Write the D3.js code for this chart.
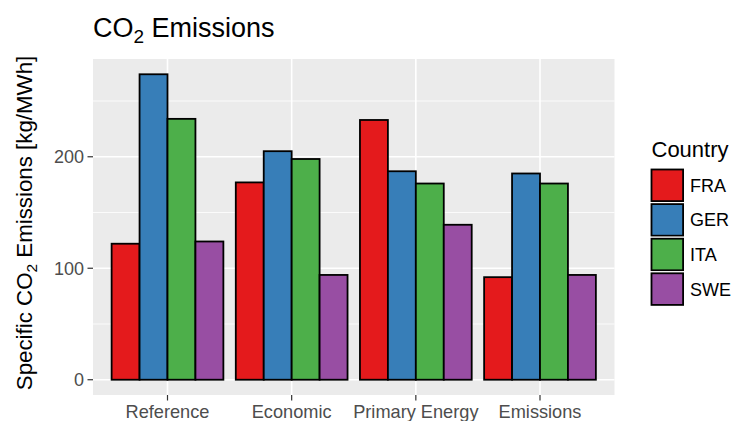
<!DOCTYPE html>
<html><head><meta charset="utf-8">
<script src="https://cdn.jsdelivr.net/npm/d3@7"></script>
<style>body{margin:0;background:#fff}svg{display:block}text{font-family:"Liberation Sans",Arial,Helvetica,sans-serif}</style>
</head><body>
<script>
const categories = ["Reference","Economic","Primary Energy","Emissions"];
const countries = ["FRA","GER","ITA","SWE"];
const FRA = [122,177,233,92];
const GER = [274,205,187,185];
const ITA = [234,198,176,176];
const SWE = [124,94,139,94];
const colors = ["#E41A1C","#377EB8","#4DAF4A","#984EA3"];
const yTicks = [0,100,200];
const yMinor = [50,150,250];

const series = [FRA,GER,ITA,SWE];
const W=733,H=421;
const m={l:93,r:614.5,t:59,b:395};
const svg=d3.select("body").append("svg").attr("width",W).attr("height",H);

const maxV=d3.max(series.flat());
const y=d3.scaleLinear().domain([-0.05*maxV,maxV*1.05]).range([m.b,m.t]);
// ggplot discrete: expansion 0.6 units each side
const x=d3.scalePoint().domain(categories).range([m.l,m.r]).padding(0.6);
const unit=x.step();
const xs=d3.scaleBand().domain(countries).range([-unit*0.45,unit*0.45]);

svg.append("rect").attr("x",m.l).attr("y",m.t).attr("width",m.r-m.l).attr("height",m.b-m.t).attr("fill","#ebebeb");
const g=svg.append("g");
yMinor.forEach(v=>g.append("line").attr("x1",m.l).attr("x2",m.r).attr("y1",y(v)).attr("y2",y(v)).attr("stroke","#fff").attr("stroke-width",0.8));
yTicks.forEach(v=>g.append("line").attr("x1",m.l).attr("x2",m.r).attr("y1",y(v)).attr("y2",y(v)).attr("stroke","#fff").attr("stroke-width",1.6));
categories.forEach(c=>g.append("line").attr("x1",x(c)).attr("x2",x(c)).attr("y1",m.t).attr("y2",m.b).attr("stroke","#fff").attr("stroke-width",1.6));

categories.forEach((c,i)=>{
  countries.forEach((k,j)=>{
    const v=series[j][i];
    g.append("rect").attr("x",x(c)+xs(k)).attr("width",xs.bandwidth())
      .attr("y",y(v)).attr("height",y(0)-y(v))
      .attr("fill",colors[j]).attr("stroke","#000").attr("stroke-width",1.8);
  });
});

// axes
const ya=svg.append("g");
yTicks.forEach(v=>{
  ya.append("line").attr("x1",m.l-5.5).attr("x2",m.l).attr("y1",y(v)).attr("y2",y(v)).attr("stroke","#333").attr("stroke-width",1.2);
  ya.append("text").attr("x",m.l-9).attr("y",y(v)).attr("dy","0.36em").attr("text-anchor","end").attr("fill","#4d4d4d").attr("font-size",18).text(v);
});
categories.forEach(c=>{
  ya.append("line").attr("x1",x(c)).attr("x2",x(c)).attr("y1",m.b).attr("y2",m.b+5.5).attr("stroke","#333").attr("stroke-width",1.2);
  ya.append("text").attr("x",x(c)).attr("y",418).attr("text-anchor","middle").attr("fill","#4d4d4d").attr("font-size",18.2).text(c);
});

// title
const t=svg.append("text").attr("x",93).attr("y",37).attr("font-size",27).attr("fill","#000");
t.append("tspan").text("CO");
t.append("tspan").attr("font-size",19).attr("dy",6).text("2");
t.append("tspan").attr("dy",-6).text(" Emissions");

// y title
const yt=svg.append("text").attr("transform",`translate(32,223) rotate(-90)`).attr("text-anchor","middle").attr("font-size",22.3).attr("fill","#000");
yt.append("tspan").text("Specific CO");
yt.append("tspan").attr("font-size",15.5).attr("dy",5).text("2");
yt.append("tspan").attr("dy",-5).text(" Emissions [kg/MWh]");

// legend
const lg=svg.append("g");
lg.append("text").attr("x",651.5).attr("y",157).attr("font-size",22).attr("fill","#000").text("Country");
const kh=34.6, k0=168;
countries.forEach((k,j)=>{
  const yy=k0+j*kh;
  lg.append("rect").attr("x",650).attr("y",yy).attr("width",kh).attr("height",kh).attr("fill","#f2f2f2").attr("stroke","#fff").attr("stroke-width",1);
  lg.append("rect").attr("x",651.5).attr("y",yy+1.5).attr("width",kh-3).attr("height",kh-3).attr("fill",colors[j]).attr("stroke","#000").attr("stroke-width",1.8);
  lg.append("text").attr("x",690).attr("y",yy+kh/2).attr("dy","0.36em").attr("font-size",18).attr("fill","#000").text(k);
});
</script>
</body></html>
